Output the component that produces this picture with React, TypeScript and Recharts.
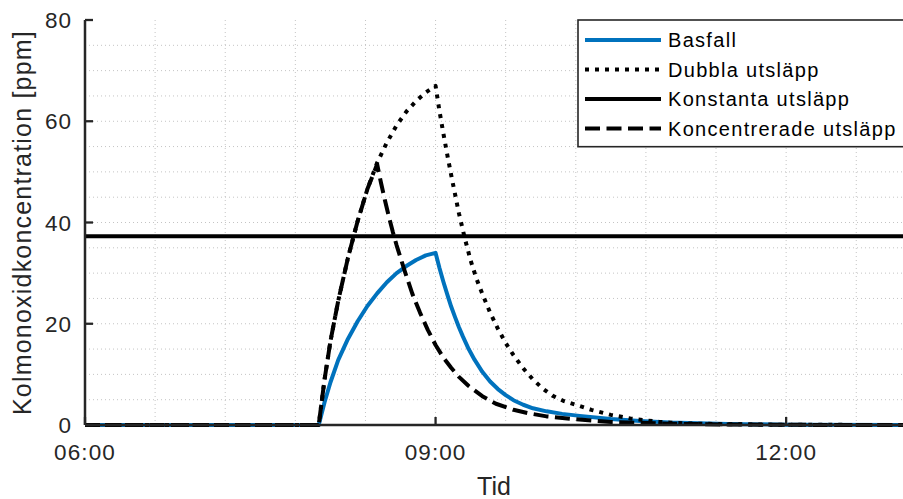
import React from 'react';
import {
  LineChart,
  Line,
  XAxis,
  YAxis,
  CartesianGrid,
  Legend,
} from 'recharts';

if (typeof document !== 'undefined') {
  document.body.style.margin = '0';
}

// tidpunkter (hh:mm) och koncentrationer i ppm
const basfallTid = ['06:00', '08:00', '08:03', '08:06', '08:10', '08:15', '08:20', '08:25', '08:30', '08:35', '08:40', '08:45', '08:50', '08:55', '09:00', '09:02', '09:04', '09:06', '09:08', '09:10', '09:12', '09:14', '09:17', '09:20', '09:24', '09:28', '09:32', '09:36', '09:40', '09:45', '09:50', '09:57', '10:05', '10:14', '10:30', '10:45', '11:00', '11:30', '12:00', '13:00'];
const basfallPpm = [0, 0, 4.5, 8.4, 12.8, 17.0, 20.5, 23.5, 26.0, 28.2, 30.0, 31.4, 32.6, 33.5, 34.0, 31.0, 28.3, 25.8, 23.4, 21.3, 19.3, 17.5, 15.0, 12.9, 10.5, 8.6, 7.1, 5.9, 4.9, 4.0, 3.3, 2.7, 2.2, 1.8, 1.2, 0.8, 0.5, 0.2, 0.07, 0];

const dubblaTid = ['06:00', '08:00', '08:03', '08:06', '08:10', '08:15', '08:20', '08:25', '08:30', '08:35', '08:40', '08:45', '08:50', '08:55', '09:00', '09:02', '09:04', '09:06', '09:08', '09:10', '09:12', '09:15', '09:18', '09:21', '09:24', '09:28', '09:32', '09:36', '09:40', '09:45', '09:50', '09:55', '10:00', '10:06', '10:12', '10:20', '10:30', '10:40', '10:55', '11:10', '11:30', '12:00', '13:00'];
const dubblaPpm = [0, 0, 9.0, 16.5, 24.5, 33.0, 40.3, 46.6, 51.8, 55.8, 59.2, 61.9, 64.0, 65.7, 67.0, 62.0, 57.6, 53.4, 49.4, 45.6, 41.8, 36.9, 32.5, 28.9, 25.9, 22.2, 19.0, 16.2, 13.8, 11.2, 9.0, 7.2, 5.8, 4.7, 4.0, 3.0, 2.0, 1.3, 0.6, 0.3, 0.15, 0.05, 0];

const konstantTid = ['06:00', '13:00'];
const konstantPpm = [37.3, 37.3];

const koncTid = ['06:00', '08:00', '08:03', '08:06', '08:10', '08:15', '08:20', '08:25', '08:30', '08:32', '08:34', '08:36', '08:38', '08:40', '08:44', '08:48', '08:52', '08:56', '09:00', '09:04', '09:08', '09:12', '09:17', '09:24', '09:31', '09:40', '09:48', '09:57', '10:10', '10:30', '11:00', '11:30', '12:00', '13:00'];
const koncPpm = [0, 0, 9.0, 16.5, 24.5, 33.0, 40.3, 46.6, 51.5, 47.8, 44.4, 41.2, 38.2, 35.5, 30.6, 26.0, 22.2, 18.8, 15.8, 13.3, 11.3, 9.5, 7.7, 5.7, 4.2, 3.0, 2.3, 1.7, 1.2, 0.6, 0.25, 0.1, 0.03, 0];

const xTicks = [6, 9, 12];
const yTicks = [0, 20, 40, 60, 80];
const gridX = [6.6, 7.2, 7.8, 8.4, 9, 9.6, 10.2, 10.8, 11.4, 12, 12.6];
const gridY = [5, 10, 15, 20, 25, 30, 35, 40, 45, 50, 55, 60, 65, 70, 75];

const toHours = (s: string) => {
  const [h, m] = s.split(':').map(Number);
  return h + m / 60;
};
const toRows = (tid: string[], ppm: number[]) => tid.map((t, i) => ({ t: toHours(t), v: ppm[i] }));
const fmtTime = (h: number) => `${String(Math.floor(h)).padStart(2, '0')}:00`;

const FONT = '"Liberation Sans", Arial, Helvetica, sans-serif';
const AXIS = '#262626';

const serier = [
  { name: 'Basfall', rows: toRows(basfallTid, basfallPpm), color: '#0072BD', dash: undefined as string | undefined },
  { name: 'Dubbla utsläpp', rows: toRows(dubblaTid, dubblaPpm), color: '#000000', dash: '4 6' },
  { name: 'Konstanta utsläpp', rows: toRows(konstantTid, konstantPpm), color: '#000000', dash: undefined },
  { name: 'Koncentrerade utsläpp', rows: toRows(koncTid, koncPpm), color: '#000000', dash: '15 6.5' },
];

const YTick = (props: any) => {
  const { x, y, payload } = props;
  return (
    <g>
      <text x={x} y={y} dy="0.36em" textAnchor="end" fill={AXIS} fontSize={22.5} fontFamily={FONT} letterSpacing={1}>
        {payload.value}
      </text>
      <line x1={x + 13} x2={x + 21} y1={y} y2={y} stroke={AXIS} strokeWidth={2.3} />
    </g>
  );
};

const XTick = (props: any) => {
  const { x, y, payload } = props;
  return (
    <g>
      <text x={x} y={y + 35} textAnchor="middle" fill={AXIS} fontSize={22.5} fontFamily={FONT} letterSpacing={1.1}>
        {fmtTime(payload.value)}
      </text>
      <line x1={x} x2={x} y1={y} y2={y - 8} stroke={AXIS} strokeWidth={2.3} />
    </g>
  );
};

const TopTick = (props: any) => {
  const { x, y } = props;
  return <line x1={x} x2={x} y1={y} y2={y + 8} stroke={AXIS} strokeWidth={2.3} />;
};

const YLabel = (props: any) => {
  const vb = props.viewBox || { x: 0, y: 20, width: 85, height: 405 };
  const x = vb.x + 31;
  const y = vb.y + vb.height / 2;
  return (
    <text x={x} y={y} transform={`rotate(-90, ${x}, ${y})`} textAnchor="middle" fill={AXIS} fontSize={25} fontFamily={FONT} letterSpacing={1.2}>
      Kolmonoxidkoncentration [ppm]
    </text>
  );
};

const LegendBox = () => {
  const rowY = [21, 50.5, 80, 109.5];
  return (
    <svg width={330} height={130} style={{ display: 'block' }}>
      <rect x={1} y={1} width={340} height={126.7} fill="#ffffff" stroke={AXIS} strokeWidth={1.6} />
      {serier.map((s, i) => (
        <g key={s.name}>
          <line x1={8} x2={84} y1={rowY[i]} y2={rowY[i]} stroke={s.color} strokeWidth={4} strokeDasharray={s.dash} />
          <text x={91} y={rowY[i] + 7} fill="#000000" fontSize={20} fontFamily={FONT} letterSpacing={1.3}>
            {s.name}
          </text>
        </g>
      ))}
    </svg>
  );
};

export default function App() {
  return (
    <div style={{ width: 903, height: 499, overflow: 'hidden', position: 'relative', background: '#fff' }}>
      <LineChart width={903} height={499} margin={{ top: 20, right: 0, bottom: 0, left: 0 }}>
        <CartesianGrid
          stroke="#c4c4c4"
          strokeDasharray="1 3"
          verticalValues={gridX}
          horizontalValues={gridY}
        />
        <XAxis
          dataKey="t"
          type="number"
          domain={[6, 13]}
          ticks={xTicks}
          height={74}
          tickSize={0}
          tickMargin={0}
          tickLine={false}
          axisLine={{ stroke: AXIS, strokeWidth: 2.5 }}
          tick={<XTick />}
          label={{ value: 'Tid', position: 'insideBottom', offset: 4, fill: AXIS, fontSize: 25, fontFamily: FONT }}
        />
        <XAxis
          xAxisId="top"
          orientation="top"
          type="number"
          domain={[6, 13]}
          ticks={xTicks}
          height={0}
          tickSize={0}
          tickMargin={0}
          tickLine={false}
          axisLine={{ stroke: AXIS, strokeWidth: 2.5 }}
          tick={<TopTick />}
        />
        <YAxis
          type="number"
          domain={[0, 80]}
          ticks={yTicks}
          width={85}
          tickSize={0}
          tickMargin={13}
          tickLine={false}
          axisLine={{ stroke: AXIS, strokeWidth: 2.5 }}
          tick={<YTick />}
          label={(p: any) => <YLabel {...p} />}
        />
        {serier.map((s) => (
          <Line
            key={s.name}
            data={s.rows}
            dataKey="v"
            name={s.name}
            type="linear"
            stroke={s.color}
            strokeWidth={4}
            strokeDasharray={s.dash}
            strokeLinejoin="round"
            dot={false}
            activeDot={false}
            isAnimationActive={false}
          />
        ))}
        <Legend
          layout="vertical"
          align="center"
          verticalAlign="middle"
          content={() => <LegendBox />}
          wrapperStyle={{ position: 'absolute', left: 577, top: 19, width: 330, height: 130 }}
        />
      </LineChart>
    </div>
  );
}
